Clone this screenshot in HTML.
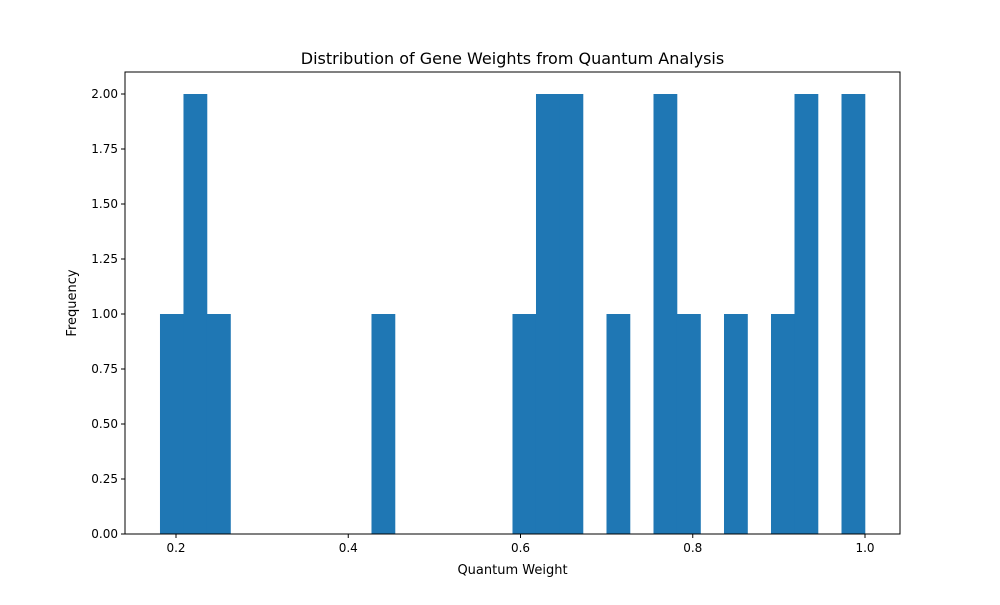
<!DOCTYPE html>
<html><head><meta charset="utf-8"><style>
body{margin:0;background:#fff;font-family:"Liberation Sans","DejaVu Sans",sans-serif}
text{font-family:"DejaVu Sans","Liberation Sans",sans-serif}
</style></head><body>
<svg id="chart" width="1000" height="600" xmlns="http://www.w3.org/2000/svg"></svg>
<script>
const binCounts = [1,2,1,0,0,0,0,0,0,1,0,0,0,0,0,1,2,2,0,1,0,2,1,0,1,0,1,2,0,2];
const binStart = 0.1814;
const binEnd = 1.0;
const xTicks = [0.2,0.4,0.6,0.8,1.0];
const xTickLabels = ["0.2","0.4","0.6","0.8","1.0"];
const yTicks = [0,0.25,0.5,0.75,1,1.25,1.5,1.75,2];
const yTickLabels = ["0.00","0.25","0.50","0.75","1.00","1.25","1.50","1.75","2.00"];

const svg = document.getElementById('chart');
const NS = 'http://www.w3.org/2000/svg';
const L=125,R=900,T=72,B=534;
const xMin=0.2-(176-125)/861.25, xMax=1.0+(900-865)/861.25;
const yMin=0,yMax=2.1;
const xs=v=>L+(v-xMin)/(xMax-xMin)*(R-L);
const ys=v=>B-(v-yMin)/(yMax-yMin)*(B-T);
function mk(tag,attrs,parent){const e=document.createElementNS(NS,tag);for(const k in attrs)e.setAttribute(k,attrs[k]);(parent||svg).appendChild(e);return e;}

const bw=(binEnd-binStart)/binCounts.length;
const bars=mk('g',{});


binCounts.forEach((c,i)=>{
  if(c<=0)return;
  const x0=xs(binStart+i*bw),x1=xs(binStart+(i+1)*bw);
  const r=mk('rect',{x:x0,y:ys(c),width:x1-x0+0.3,height:ys(0)-ys(c),fill:'#1f77b4'},bars);
  
  
});

const frame=mk('rect',{x:L,y:T,width:R-L,height:B-T,fill:'none',stroke:'#000','stroke-width':1});



xTicks.forEach((v,i)=>{
  const x=xs(v);
  mk('line',{x1:x,x2:x,y1:B,y2:B+4,stroke:'#000'});
  const t=mk('text',{x:x,y:B+18,'text-anchor':'middle','font-size':12});
  t.textContent=xTickLabels[i];
  
  
});
yTicks.forEach((v,i)=>{
  const y=ys(v);
  mk('line',{x1:L-4,x2:L,y1:y,y2:y,stroke:'#000'});
  const t=mk('text',{x:L-7,y:y+4,'text-anchor':'end','font-size':12});
  t.textContent=yTickLabels[i];
  
  
});
const xt=mk('text',{x:(L+R)/2,y:574,'text-anchor':'middle','font-size':13});
xt.textContent='Quantum Weight';


const yt=mk('text',{x:0,y:0,'text-anchor':'middle','font-size':13,transform:`translate(76,${(T+B)/2}) rotate(-90)`});
yt.textContent='Frequency';


const tt=mk('text',{x:(L+R)/2,y:64,'text-anchor':'middle','font-size':16});
tt.textContent='Distribution of Gene Weights from Quantum Analysis';


</script>
</body></html>
